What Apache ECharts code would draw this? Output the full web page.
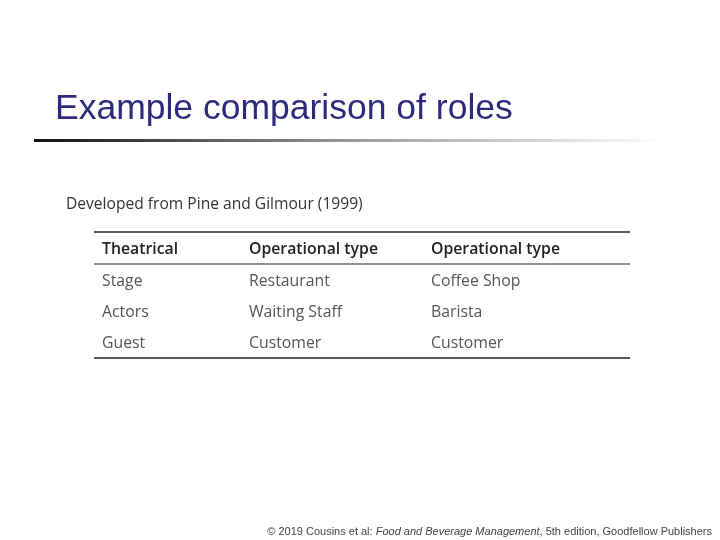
<!DOCTYPE html>
<html><head><meta charset="utf-8">
<script src="https://cdn.jsdelivr.net/npm/echarts@6/dist/echarts.min.js"></script>
<style>html,body{margin:0;padding:0;background:#fff}#c{width:720px;height:540px}</style>
</head><body><div id="c"></div>
<script>
var title = 'Example comparison of roles';
var subtitle = 'Developed from Pine and Gilmour (1999)';
var headers = ['Theatrical', 'Operational type', 'Operational type'];
var rows = [
  ['Stage', 'Restaurant', 'Coffee Shop'],
  ['Actors', 'Waiting Staff', 'Barista'],
  ['Guest', 'Customer', 'Customer']
];
var colX = [102, 249, 431];
var headerY = 249, rowY0 = 281, rowStep = 31;
var tf = '"Open Sans", "Noto Sans", sans-serif';
var g = [];
g.push({type:'text', x:55, y:109, style:{text:title, font:'35.5px "Liberation Sans", Arial, sans-serif', fill:'#2d2a7c', verticalAlign:'middle'}});
g.push({type:'rect', shape:{x:34,y:139,width:630,height:3}, style:{fill:{type:'linear',x:0,y:0,x2:1,y2:0,colorStops:[{offset:0,color:'#111'},{offset:0.5,color:'#999'},{offset:1,color:'#fff'}]}}});
g.push({type:'text', x:66, y:205, style:{text:subtitle, font:'15.6px '+tf, fill:'#333', verticalAlign:'middle'}});
[[232,1.5],[264,1.2],[358,1.5]].forEach(function(l){
  g.push({type:'line', shape:{x1:94,y1:l[0],x2:630,y2:l[0]}, style:{stroke:'#222', lineWidth:l[1]}});
});
headers.forEach(function(h,i){
  g.push({type:'text', x:colX[i], y:headerY, style:{text:h, font:'600 15.8px '+tf, fill:'#222', verticalAlign:'middle'}});
});
rows.forEach(function(r,j){
  r.forEach(function(c,i){
    g.push({type:'text', x:colX[i], y:rowY0+j*rowStep, style:{text:c, font:'15.8px '+tf, fill:'#555', verticalAlign:'middle'}});
  });
});
g.push({type:'text', right:8, top:526, style:{
  text:'{n|© 2019 Cousins et al: }{i|Food and Beverage Management}{n|, 5th edition, Goodfellow Publishers}',
  rich:{n:{font:'11px "Liberation Sans", Arial, sans-serif', fill:'#444'}, i:{font:'italic 11px "Liberation Sans", Arial, sans-serif', fill:'#444'}}
}});
var chart = echarts.init(document.getElementById('c'));
chart.setOption({backgroundColor:'#fff', graphic:g});
</script></body></html>
